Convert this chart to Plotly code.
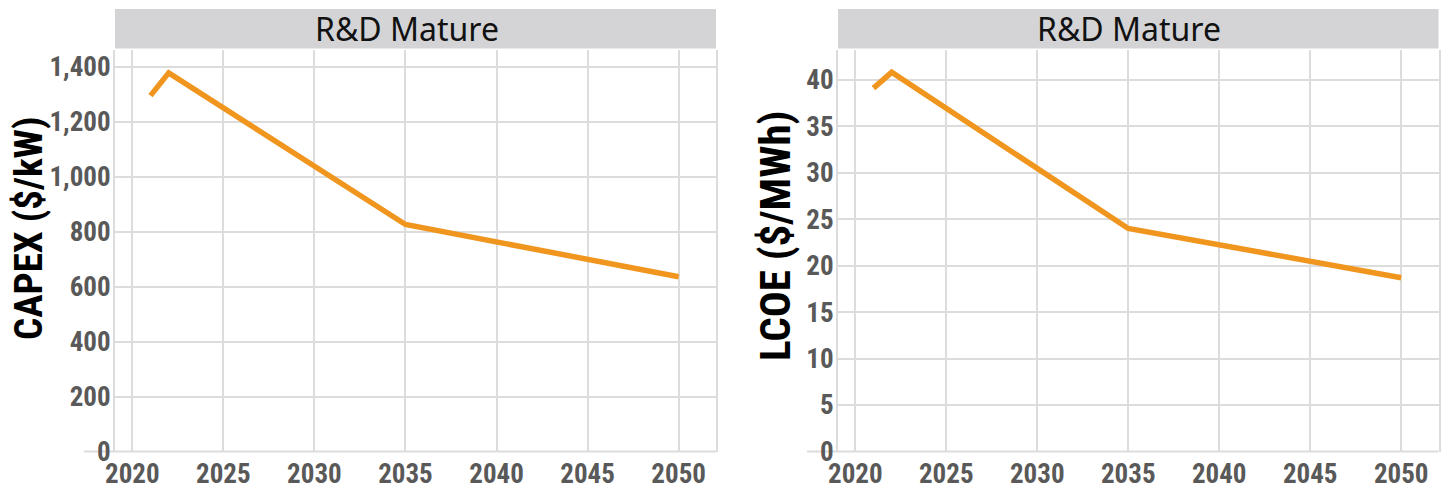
import plotly.graph_objects as go

years = [2021, 2022, 2035, 2050]
capex = [1295, 1378, 826, 636]
lcoe = [39.1, 40.8, 24.0, 18.7]
panel_title = "R&D Mature"
capex_title = "CAPEX ($/kW)"
lcoe_title = "LCOE ($/MWh)"
x_ticks = [2020, 2025, 2030, 2035, 2040, 2045, 2050]

W, H = 1450, 487
OFF = 8  # page body margin
ORANGE = "#F0961F"
GRID = "#dcdcdc"
TICKFONT = dict(family="Roboto Condensed, Roboto, Arial", size=27, color="#595959", weight="bold")

def px(x):
    return (x - OFF) / W

def py(y):
    return 1 - (y - OFF) / H

fig = go.Figure()
fig.add_trace(go.Scatter(x=years, y=capex, mode="lines", line=dict(color=ORANGE, width=5.5),
                         xaxis="x", yaxis="y", showlegend=False, hoverinfo="skip"))
fig.add_trace(go.Scatter(x=years, y=lcoe, mode="lines", line=dict(color=ORANGE, width=5.5),
                         xaxis="x2", yaxis="y2", showlegend=False, hoverinfo="skip"))

bottom, top = 451.5, 50
panels = [(115, 716), (838, 1438.5)]

xcommon = dict(range=[2019.05, 2052.05], tickvals=x_ticks, showgrid=True, gridcolor=GRID, gridwidth=2,
               zeroline=False, showline=False, ticks="", tickfont=TICKFONT, ticklabelstandoff=3,
               automargin=False)
ycommon = dict(showgrid=True, gridcolor=GRID, gridwidth=2, zeroline=False, showline=True, mirror=True,
               linecolor=GRID, linewidth=2, ticks="", tickfont=TICKFONT, ticklabelstandoff=-3,
               automargin=False)

fig.update_layout(
    width=W, height=H, margin=dict(l=0, r=0, t=0, b=0, autoexpand=False),
    plot_bgcolor="white", paper_bgcolor="white",
    xaxis=dict(domain=[px(panels[0][0]), px(panels[0][1])], anchor="y", **xcommon),
    yaxis=dict(domain=[py(bottom), py(top)], anchor="x", range=[0, 1461], dtick=200,
               tickformat=",", **ycommon),
    xaxis2=dict(domain=[px(panels[1][0]), px(panels[1][1])], anchor="y2", **xcommon),
    yaxis2=dict(domain=[py(bottom), py(top)], anchor="x2", range=[0, 43.2], dtick=5, **ycommon),
)

for (l, r), title, tx, ty, tsize in [(panels[0], capex_title, 29, 228, 39), (panels[1], lcoe_title, 775, 236, 43)]:
    # strip
    fig.add_shape(type="rect", xref="paper", yref="paper", x0=px(l), x1=px(r), y0=py(48.5), y1=py(9),
                  fillcolor="#d4d4d6", line=dict(width=0), layer="below")
    fig.add_annotation(xref="paper", yref="paper", x=px((l + r) / 2 - 9), y=py(28.5), text=panel_title,
                       showarrow=False, font=dict(family="Noto Sans, Arial", size=32, color="#111"),
                       xanchor="center", yanchor="middle")
    # extended baseline
    fig.add_shape(type="line", xref="paper", yref="paper", x0=px(l - 31), x1=px(r), y0=py(bottom), y1=py(bottom),
                  line=dict(color=GRID, width=2), layer="below")
    # axis title
    fig.add_annotation(xref="paper", yref="paper", x=px(tx), y=py(ty), text=title,
                       showarrow=False, textangle=-90,
                       font=dict(family="Roboto Condensed, Roboto, Arial", size=tsize, color="#000", weight="bold"),
                       xanchor="center", yanchor="middle")

fig.write_html("out.html")
